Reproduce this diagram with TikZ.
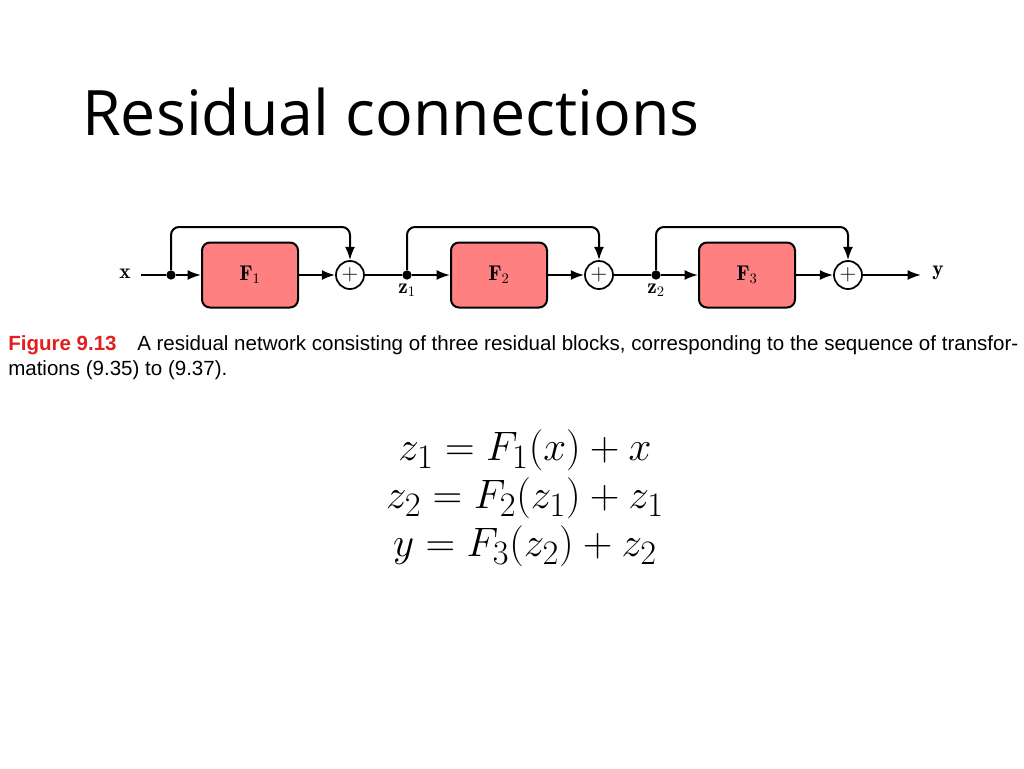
\documentclass[tikz,border=0pt]{standalone}
\usepackage{amsmath}
\usepackage{fontspec}
\usepackage{tikz}
\usetikzlibrary{arrows.meta,calc}
\newfontfamily\titlefont{Open Sans}
\newfontfamily\capfont{Liberation Sans}
\definecolor{blockred}{RGB}{255,128,128}
\definecolor{figred}{RGB}{226,30,30}
\tikzset{
  block/.style={draw, line width=1.5pt, fill=blockred, rounded corners=6pt,
    minimum width=72pt, minimum height=48.75pt, font=\fontsize{16}{18}\selectfont},
  addnode/.style={draw, circle, line width=1.3pt, fill=white, minimum size=21pt,
    inner sep=0pt, font=\fontsize{16}{18}\selectfont},
  dotnode/.style={circle, fill=black, inner sep=0pt, minimum size=7pt},
  varlabel/.style={font=\fontsize{16}{18}\selectfont},
  arr/.style={line width=1.5pt, -{Latex[length=10pt,width=7.5pt]}},
  wire/.style={line width=1.5pt},
}
\begin{document}
\begin{tikzpicture}[x=0.75pt, y=-0.75pt]
\useasboundingbox (0,0) rectangle (1024,768);
% title and caption
\node[anchor=base west, inner sep=0pt, font=\titlefont\fontsize{47}{54}\selectfont] (title) at (82,135) {Residual connections};
\node[anchor=base west, inner sep=0pt, font=\capfont\bfseries\fontsize{15.4}{18}\selectfont, text=figred] (fignum) at (8,350) {Figure 9.13};
\node[anchor=base west, inner sep=0pt, font=\capfont\fontsize{15.4}{18}\selectfont] (capone) at (137,350) {A residual network consisting of three residual blocks, corresponding to the sequence of transfor-};
\node[anchor=base west, inner sep=0pt, font=\capfont\fontsize{15.4}{18}\selectfont] (captwo) at (8,375) {mations (9.35) to (9.37).};
% the network
\node[varlabel] (x) at (125,274) {$\mathbf{x}$};
\coordinate (xin) at (141,275);
\node[dotnode] (d1) at (171,275) {};
\node[block] (F1) at (250,275) {$\mathbf{F}_1$};
\node[addnode] (p1) at (350,275) {$+$};
\node[dotnode] (d2) at (407,275) {};
\node[varlabel, below=3pt] (z1) at (d2) {$\mathbf{z}_1$};
\node[block] (F2) at (499,275) {$\mathbf{F}_2$};
\node[addnode] (p2) at (599,275) {$+$};
\node[dotnode] (d3) at (656,275) {};
\node[varlabel, below=3pt] (z2) at (d3) {$\mathbf{z}_2$};
\node[block] (F3) at (747,275) {$\mathbf{F}_3$};
\node[addnode] (p3) at (848,275) {$+$};
\coordinate (yout) at (921,275);
\node[varlabel] (y) at (938,273) {$\mathbf{y}$};
\draw[wire] (xin) -- (d1);
\draw[arr] (d1) -- (F1);
\draw[arr] (F1) -- (p1);
\draw[wire] (p1) -- (d2);
\draw[arr] (d2) -- (F2);
\draw[arr] (F2) -- (p2);
\draw[wire] (p2) -- (d3);
\draw[arr] (d3) -- (F3);
\draw[arr] (F3) -- (p3);
\draw[arr] (p3) -- (yout);
\draw[arr, rounded corners=6pt] (d1) -- ++(0,-48) -| (p1);
\draw[arr, rounded corners=6pt] (d2) -- ++(0,-48) -| (p2);
\draw[arr, rounded corners=6pt] (d3) -- ++(0,-48) -| (p3);
% equations
\node[font=\fontsize{24.88}{29}\selectfont, align=center, scale=1.24] (eqs) at (525,498)
  {$z_1 = F_1(x) + x$\\ $z_2 = F_2(z_1) + z_1$\\ $y = F_3(z_2) + z_2$};
\end{tikzpicture}
\end{document}
